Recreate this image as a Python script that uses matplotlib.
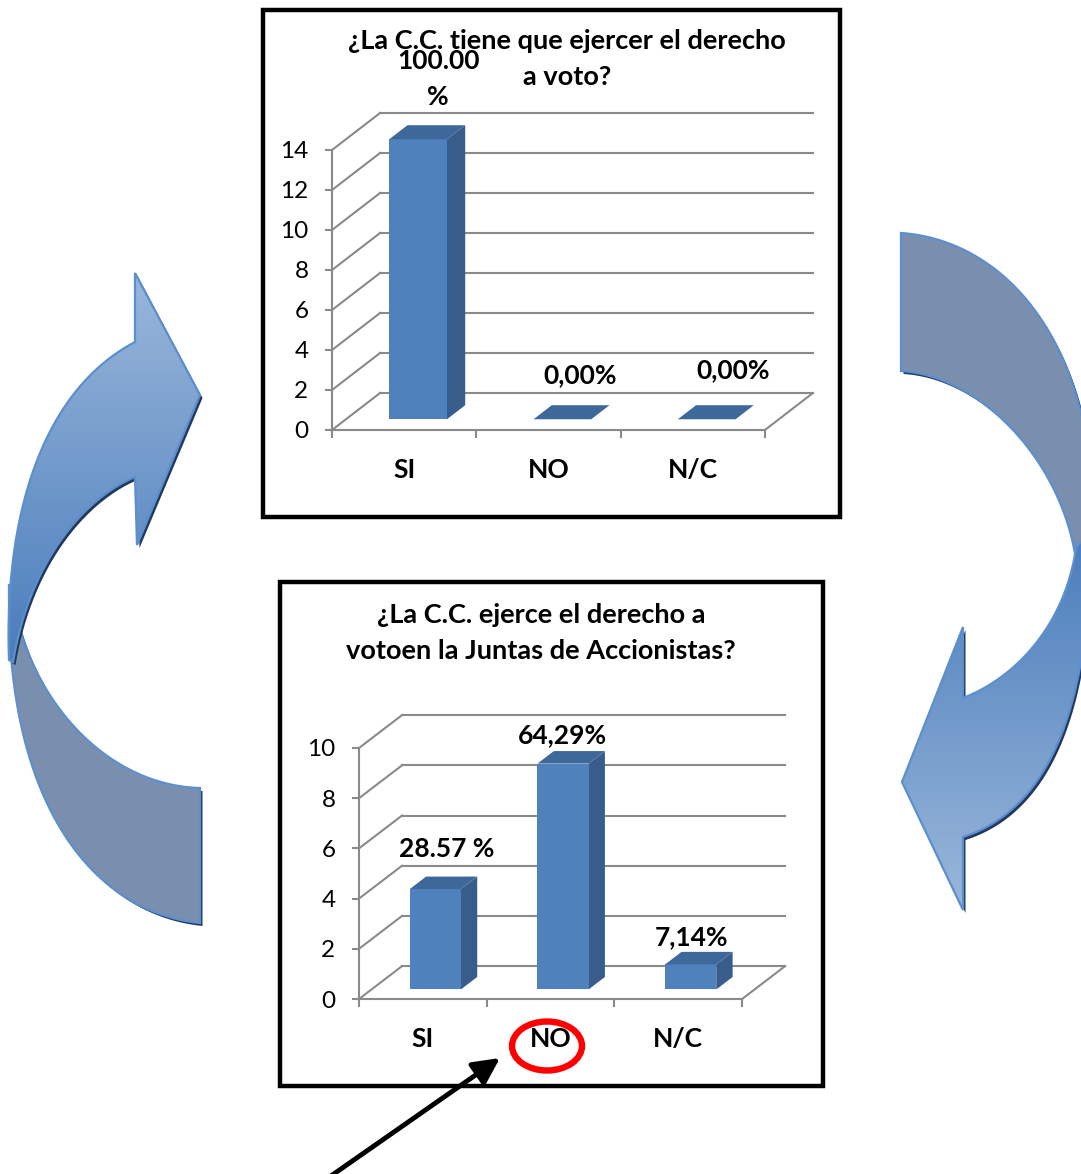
import numpy as np
import matplotlib
matplotlib.use("Agg")
import matplotlib.pyplot as plt
from matplotlib.patches import Polygon, Rectangle, Ellipse
from matplotlib.colors import LinearSegmentedColormap

plt.rcParams['font.family'] = ['Lato', 'DejaVu Sans']

# ---------------- data ----------------
categories = ["SI", "NO", "N/C"]

title1 = "¿La C.C. tiene que ejercer el derecho\na voto?"
values1 = [14, 0, 0]
labels1 = ["100.00\n%", "0,00%", "0,00%"]
yticks1 = [0, 2, 4, 6, 8, 10, 12, 14]

title2 = "¿La C.C. ejerce el derecho a\nvotoen la Juntas de Accionistas?"
values2 = [4, 9, 1]
labels2 = ["28.57 %", "64,29%", "7,14%"]
yticks2 = [0, 2, 4, 6, 8, 10]

# ---------------- style ----------------
W, H = 1081, 1174
GRID = "#8a8a8a"
FRONT = "#4f81bd"
SIDE = "#385d8a"
TOP = "#3e6899"
GRAY_RIBBON = "#7a8fae"
EDGE = "#5b8fd0"
SHADOW = "#22395a"
FS_TITLE = 19.5
FS_LABEL = 19
FS_TICK = 17.5

fig = plt.figure(figsize=(W / 100, H / 100), dpi=100)
fig.patch.set_facecolor("white")

bg = fig.add_axes([0, 0, 1, 1])
bg.set_xlim(0, W)
bg.set_ylim(H, 0)
bg.axis("off")


def bez(p0, p1, p2, p3, n=50):
    t = np.linspace(0, 1, n)[:, None]
    p0, p1, p2, p3 = map(np.asarray, (p0, p1, p2, p3))
    return (1 - t) ** 3 * p0 + 3 * (1 - t) ** 2 * t * p1 + 3 * (1 - t) * t ** 2 * p2 + t ** 3 * p3


def ribbon(ax, pts, color=None, cmap=None, z=2):
    pts = np.asarray(pts, dtype=float)
    sh = Polygon(pts + np.array([2.5, 3.0]), closed=True, facecolor=SHADOW,
                 edgecolor="none", zorder=z)
    ax.add_patch(sh)
    patch = Polygon(pts, closed=True, facecolor=color if color else "none",
                    edgecolor=EDGE, lw=1.6, zorder=z + 0.2)
    ax.add_patch(patch)
    if cmap is not None:
        x0, x1 = pts[:, 0].min(), pts[:, 0].max()
        y0, y1 = pts[:, 1].min(), pts[:, 1].max()
        im = ax.imshow(np.linspace(0, 1, 256)[:, None], extent=[x0, x1, y1, y0],
                       cmap=cmap, aspect="auto", zorder=z + 0.1, interpolation="bilinear")
        im.set_clip_path(patch)


light_to_dark = LinearSegmentedColormap.from_list("ld", ["#9ab7da", "#4a7dbc"])
dark_to_light = LinearSegmentedColormap.from_list("dl", ["#4a7dbc", "#9ab7da"])

# ----- left curved arrow -----
gray_left = np.vstack([
    [[9, 585]],
    bez((9, 600), (8, 800), (90, 912), (200, 923)),
    [[200, 788]],
    bez((200, 788), (120, 786), (48, 722), (20, 630)),
    [[12, 585]],
])
ribbon(bg, gray_left, color=GRAY_RIBBON, z=2)

blue_left = np.vstack([
    [[135, 273], [200, 395], [137, 545], [135, 477]],
    bez((135, 477), (85, 498), (30, 560), (13, 662)),
    bez((9, 660), (4, 520), (40, 392), (135, 342)),
])
ribbon(bg, blue_left, cmap=light_to_dark, z=3)

# ----- right curved arrow -----
gray_right = np.vstack([
    bez((901, 233), (1000, 240), (1078, 330), (1090, 470)),
    [[1092, 560], [1076, 560]],
    bez((1076, 560), (1062, 462), (982, 376), (901, 371)),
])
ribbon(bg, gray_right, color=GRAY_RIBBON, z=2)

blue_right = np.vstack([
    bez((1090, 530), (1092, 720), (1042, 812), (963, 837)),
    [[963, 910], [902, 782], [963, 627], [963, 698]],
    bez((963, 698), (1020, 676), (1066, 620), (1076, 548)),
])
ribbon(bg, blue_right, cmap=dark_to_light, z=3)

bg.set_xlim(0, W)
bg.set_ylim(H, 0)

# ----- chart frames -----
bg.add_patch(Rectangle((263, 10), 577, 507, fill=False, lw=3.2, ec="black", zorder=5))
bg.add_patch(Rectangle((280, 582), 543, 504, fill=False, lw=3.2, ec="black", zorder=5))

t1a, t1b = title1.split("\n")
t2a, t2b = title2.split("\n")
fig.text(567 / W, 1 - 41 / H, t1a, ha="center", va="center", fontsize=FS_TITLE, fontweight="bold")
fig.text(567 / W, 1 - 77 / H, t1b, ha="center", va="center", fontsize=FS_TITLE, fontweight="bold")
fig.text(541 / W, 1 - 615 / H, t2a, ha="center", va="center", fontsize=FS_TITLE, fontweight="bold")
fig.text(541 / W, 1 - 651 / H, t2b, ha="center", va="center", fontsize=FS_TITLE, fontweight="bold")


def chart3d(origin, cat_px, val_px, dx, dy, values, ticks, labels, label_off):
    ox, oy = origin
    vmax = ticks[-1]
    ax = fig.add_axes([ox / W, 1 - oy / H, (3 + dx) * cat_px / W, (vmax + dy) * val_px / H])
    ax.set_xlim(-0.5, 2.5 + dx)
    ax.set_ylim(0, vmax + dy)
    ax.patch.set_alpha(0)
    for s in ("top", "right"):
        ax.spines[s].set_visible(False)
    ax.spines["left"].set_bounds(0, vmax)
    ax.spines["bottom"].set_bounds(-0.5, 2.5)
    for s in ("left", "bottom"):
        ax.spines[s].set_color(GRID)
        ax.spines[s].set_linewidth(1.5)

    # walls
    for t in ticks:
        ax.plot([-0.5 + dx, 2.5 + dx], [t + dy, t + dy], color=GRID, lw=1.5,
                clip_on=False, zorder=1)
        ax.plot([-0.5, -0.5 + dx], [t, t + dy], color=GRID, lw=1.5,
                clip_on=False, zorder=1)
    ax.plot([2.5, 2.5 + dx], [0, dy], color=GRID, lw=1.5, clip_on=False, zorder=1)

    # bars
    w, f0, f1 = 0.4, 0.29, 0.67
    a, b, c, d = f0 * dx, f0 * dy, f1 * dx, f1 * dy
    for i, v in enumerate(values):
        x0, x1 = i - w / 2, i + w / 2
        front = [(x0 + a, b), (x1 + a, b), (x1 + a, v + b), (x0 + a, v + b)]
        side = [(x1 + a, b), (x1 + c, d), (x1 + c, v + d), (x1 + a, v + b)]
        top = [(x0 + a, v + b), (x1 + a, v + b), (x1 + c, v + d), (x0 + c, v + d)]
        ax.add_patch(Polygon(side, closed=True, fc=SIDE, ec="none", zorder=3))
        ax.add_patch(Polygon(front, closed=True, fc=FRONT, ec="none", zorder=3))
        ax.add_patch(Polygon(top, closed=True, fc=TOP, ec="none", zorder=3))
        lx, ly = label_off[i]
        ax.text(i + lx, v + ly, labels[i], ha="center", va="center", fontsize=FS_LABEL,
                fontweight="bold", linespacing=1.6, zorder=5)

    ax.set_yticks(ticks)
    ax.set_yticklabels([str(t) for t in ticks])
    ax.tick_params(axis="y", length=5, width=1.5, color=GRID, pad=12, labelsize=FS_TICK)
    ax.set_xticks(range(len(categories)))
    ax.set_xticklabels(categories, fontsize=FS_LABEL, fontweight="bold")
    ax.set_xticks([-0.5, 0.5, 1.5, 2.5], minor=True)
    ax.tick_params(axis="x", which="major", length=0, pad=20)
    ax.tick_params(axis="x", which="minor", length=5.5, width=1.5, color=GRID)
    return ax


chart3d((332, 430), 144.3, 20.0, 0.333, 1.85, values1, yticks1, labels1,
        [(0.235, 3.55), (0.219, 2.75), (0.279, 3.0)])
chart3d((359, 999), 127.7, 25.1, 0.337, 1.31, values2, yticks2, labels2,
        [(0.189, 1.98), (0.097, 1.52), (0.10, 1.47)])

# ----- overlay annotations -----
ov = fig.add_axes([0, 0, 1, 1], label="overlay")
ov.set_xlim(0, W)
ov.set_ylim(H, 0)
ov.axis("off")
ov.patch.set_alpha(0)
ov.add_patch(Ellipse((547, 1046), 70, 49, fill=False, ec="#ff0000", lw=4.6))
ov.annotate("", xy=(500, 1058), xytext=(328, 1178),
            arrowprops=dict(arrowstyle="-|>,head_length=0.8,head_width=0.4",
                            mutation_scale=20, lw=3.5, color="black",
                            shrinkA=0, shrinkB=0))

fig.savefig("out.png", dpi=100, facecolor="white")
